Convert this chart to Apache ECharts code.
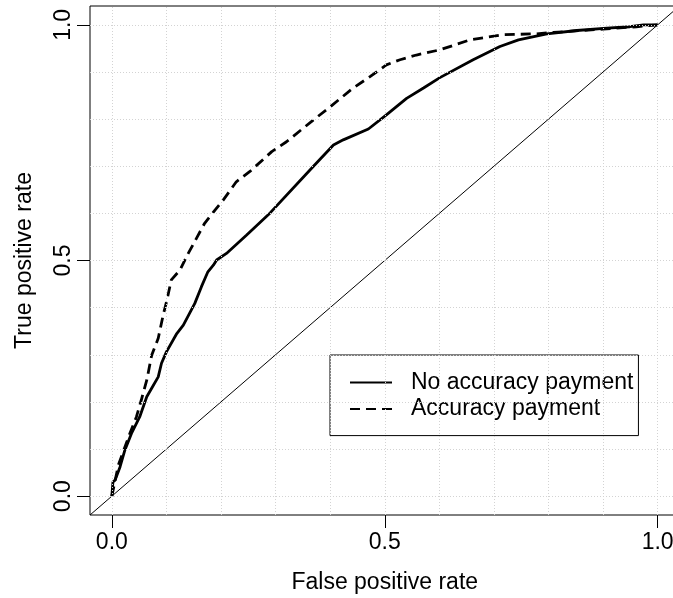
<!DOCTYPE html>
<html>
<head>
<meta charset="utf-8">
<script src="https://cdn.jsdelivr.net/npm/echarts@6/dist/echarts.min.js"></script>
<style>
html, body { margin: 0; padding: 0; background: #fff; }
#chart { width: 673px; height: 598px; }
</style>
</head>
<body>
<div id="chart"></div>
<script>
// ROC curves: [false positive rate, true positive rate]
const noAccuracy = [
  [0, 0], [0.002, 0.030], [0.006, 0.034], [0.015, 0.062], [0.024, 0.098],
  [0.036, 0.133], [0.051, 0.168], [0.064, 0.211], [0.073, 0.229], [0.085, 0.253],
  [0.091, 0.282], [0.100, 0.306], [0.119, 0.345], [0.131, 0.363], [0.152, 0.409],
  [0.164, 0.444], [0.176, 0.476], [0.186, 0.490], [0.192, 0.501], [0.210, 0.515],
  [0.247, 0.554], [0.290, 0.601], [0.363, 0.692], [0.406, 0.745], [0.424, 0.756],
  [0.470, 0.779], [0.503, 0.809], [0.540, 0.844], [0.571, 0.866], [0.601, 0.888],
  [0.662, 0.926], [0.711, 0.954], [0.745, 0.968], [0.797, 0.981], [0.852, 0.988],
  [0.907, 0.993], [0.949, 0.996], [0.974, 1.0], [1.0, 1.0]
];
const withAccuracy = [
  [0, 0], [0.012, 0.066], [0.033, 0.133], [0.045, 0.168], [0.054, 0.204],
  [0.064, 0.246], [0.073, 0.299], [0.085, 0.335], [0.094, 0.384], [0.101, 0.416],
  [0.109, 0.459], [0.125, 0.480], [0.140, 0.515], [0.155, 0.547], [0.170, 0.579],
  [0.189, 0.607], [0.204, 0.628], [0.228, 0.667], [0.253, 0.689], [0.293, 0.731],
  [0.320, 0.752], [0.369, 0.798], [0.399, 0.825], [0.442, 0.866], [0.473, 0.890],
  [0.503, 0.915], [0.528, 0.926], [0.558, 0.936], [0.601, 0.947], [0.656, 0.968],
  [0.717, 0.979], [0.778, 0.981], [0.809, 0.984], [0.900, 0.991], [0.961, 0.996],
  [1.0, 1.0]
];
const diagonal = [[-0.04, -0.04], [1.04, 1.04]];
const seriesNames = ['No accuracy payment', 'Accuracy payment'];
const axisRange = [-0.04, 1.04];
const tickValues = [0, 0.5, 1];
const gridValues = [0, 0.1, 0.2, 0.3, 0.4, 0.5, 0.6, 0.7, 0.8, 0.9, 1.0];

const font = "'Liberation Sans', Arial, Helvetica, sans-serif";
const chart = echarts.init(document.getElementById('chart'), null, { renderer: 'canvas' });

function valueAxis(name, isY) {
  return {
    type: 'value',
    min: axisRange[0],
    max: axisRange[1],
    name: name,
    nameLocation: 'middle',
    nameGap: isY ? 54 : 56,
    nameTextStyle: { fontSize: 23, color: '#000', fontFamily: font },
    axisLine: { show: false, onZero: false },
    splitLine: { show: false },
    axisTick: {
      show: true,
      length: 13,
      customValues: tickValues,
      lineStyle: { color: '#000', width: 1 }
    },
    axisLabel: {
      customValues: tickValues,
      fontSize: 23,
      color: '#000',
      fontFamily: font,
      margin: isY ? 15 : 16,
      rotate: isY ? 90 : 0,
      formatter: v => v.toFixed(1)
    }
  };
}

chart.setOption({
  animation: false,
  textStyle: { fontFamily: font },
  grid: {
    left: 90,
    top: 6,
    width: 589.5,
    height: 509,
    show: true,
    borderColor: '#000',
    borderWidth: 1,
    backgroundColor: 'transparent',
    containLabel: false,
    outerBoundsMode: 'none'
  },
  xAxis: valueAxis('False positive rate', false),
  yAxis: valueAxis('True positive rate', true),
  legend: {
    data: seriesNames,
    orient: 'vertical',
    left: 330,
    top: 355,
    padding: [16, 5, 15, 19],
    itemWidth: 42,
    itemHeight: 14,
    itemGap: 3.6,
    borderColor: '#000',
    borderWidth: 1,
    borderRadius: 0,
    selectedMode: false,
    itemStyle: { opacity: 0 },
    textStyle: { fontSize: 23, color: '#000', fontFamily: font, padding: [0, 0, 0, 14] }
  },
  series: [
    {
      name: 'diagonal',
      type: 'line',
      data: diagonal,
      symbol: 'none',
      silent: true,
      z: 1,
      lineStyle: { color: '#000', width: 1 },
      markLine: {
        silent: true,
        symbol: ['none', 'none'],
        label: { show: false },
        lineStyle: { color: '#d3d3d3', type: [1, 2], width: 1 },
        data: gridValues.map(v => ({ xAxis: v })).concat(gridValues.map(v => ({ yAxis: v })))
      }
    },
    {
      name: seriesNames[0],
      type: 'line',
      data: noAccuracy,
      symbol: 'none',
      z: 3,
      lineStyle: { color: '#000', width: 2.8 },
      itemStyle: { color: '#000' }
    },
    {
      name: seriesNames[1],
      type: 'line',
      data: withAccuracy,
      symbol: 'none',
      z: 3,
      lineStyle: { color: '#000', width: 2.8, type: [10, 6] },
      itemStyle: { color: '#000' }
    }
  ]
});
</script>
</body>
</html>
